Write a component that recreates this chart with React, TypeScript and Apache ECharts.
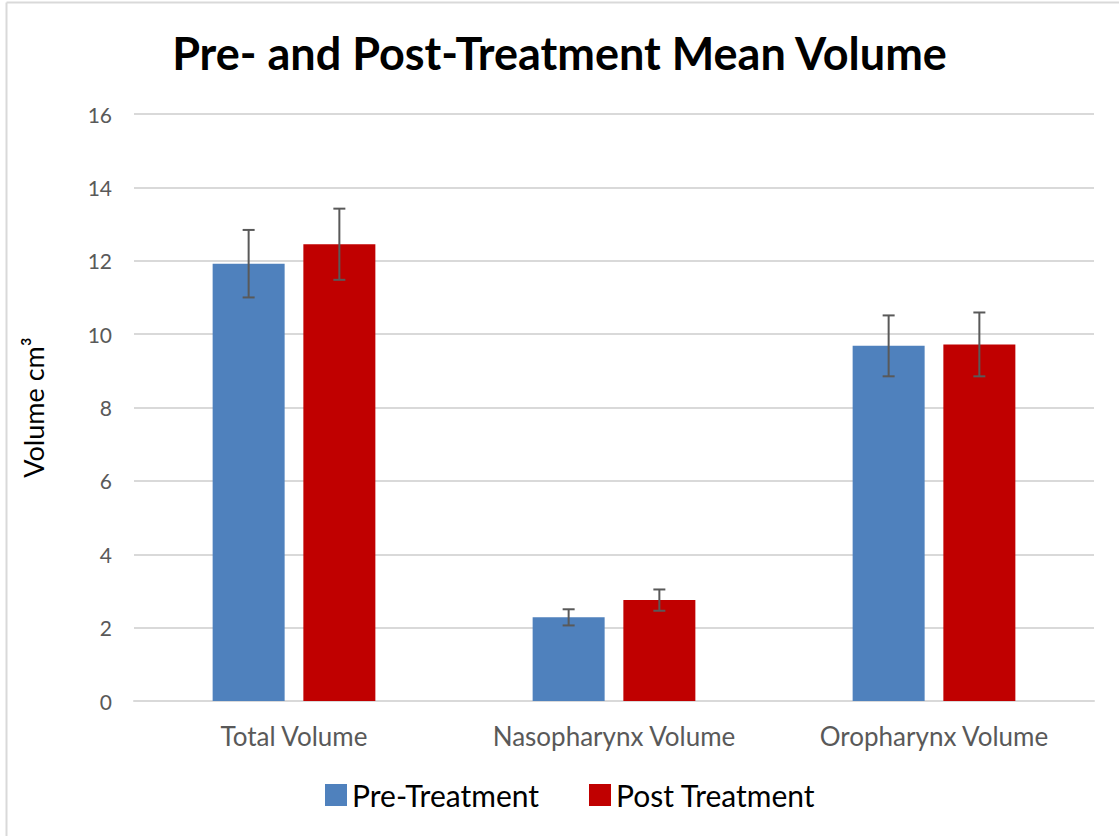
import React, { useEffect, useRef } from "react";
import * as echarts from "echarts";

const categories = ["Total Volume", "Nasopharynx Volume", "Oropharynx Volume"];
const preValues = [11.92, 2.28, 9.68];
const preErrors = [0.92, 0.22, 0.83];
const postValues = [12.45, 2.75, 9.72];
const postErrors = [0.97, 0.29, 0.87];
const seriesNames = ["Pre-Treatment", "Post Treatment"];
const colors = ["#4f81bd", "#c00000"];

const BAR_FRAC = 0.225;
const GAP_FRAC = 0.26;
const FONT = "Lato";

export default function App() {
  const ref = useRef<HTMLDivElement>(null);
  useEffect(() => {
    if (!ref.current) return;
    const chart = echarts.init(ref.current, null, { renderer: "svg" });

    const errorSeries = (vals: number[], errs: number[], sign: number) => ({
      type: "custom",
      name: "err" + sign,
      silent: true,
      z: 5,
      renderItem: (params: any, api: any) => {
        const idx = api.value(0);
        const v = api.value(1);
        const e = api.value(2);
        const cw = api.size([1, 0])[0];
        const off = (sign * cw * BAR_FRAC * (1 + GAP_FRAC)) / 2;
        const c = api.coord([idx, v]);
        const hi = api.coord([idx, v + e]);
        const lo = api.coord([idx, v - e]);
        const x = c[0] + off;
        const cap = 6;
        const style = { stroke: "#595959", lineWidth: 2, fill: "none" };
        return {
          type: "group",
          children: [
            { type: "line", shape: { x1: x, y1: hi[1], x2: x, y2: lo[1] }, style },
            { type: "line", shape: { x1: x - cap, y1: hi[1], x2: x + cap, y2: hi[1] }, style },
            { type: "line", shape: { x1: x - cap, y1: lo[1], x2: x + cap, y2: lo[1] }, style },
          ],
        };
      },
      data: vals.map((v, i) => [i, v, errs[i]]),
    });

    chart.setOption({
      animation: false,
      backgroundColor: "#ffffff",
      title: {
        text: "Pre- and Post-Treatment Mean Volume",
        left: "center",
        top: 25,
        textStyle: { fontFamily: FONT, fontWeight: "bold", fontSize: 45, color: "#000000" },
      },
      legend: {
        data: seriesNames,
        bottom: 21,
        left: 320,
        itemWidth: 22,
        itemHeight: 22,
        itemGap: 50,
        icon: "rect",
        textStyle: { fontFamily: FONT, fontSize: 30, color: "#000000" },
      },
      grid: { left: 134, right: 25, top: 114, bottom: 135 },
      xAxis: {
        type: "category",
        data: categories,
        axisLine: { show: true, lineStyle: { color: "#d9d9d9", width: 2 } },
        axisTick: { show: false },
        axisLabel: { fontFamily: FONT, fontSize: 26, color: "#595959", margin: 22 },
      },
      yAxis: {
        type: "value",
        min: 0,
        max: 16,
        interval: 2,
        name: "Volume cm\u00b3",
        nameLocation: "middle",
        nameGap: 87,
        nameTextStyle: { fontFamily: FONT, fontSize: 27, color: "#000000" },
        axisLine: { show: false },
        axisTick: { show: false },
        splitLine: { lineStyle: { color: "#d9d9d9", width: 2 } },
        axisLabel: { fontFamily: FONT, fontSize: 21, color: "#595959", margin: 22 },
      },
      graphic: [
        { type: "line", shape: { x1: 6.5, y1: 2.5, x2: 6.5, y2: 836 }, style: { stroke: "#d9d9d9", lineWidth: 2 } },
        { type: "line", shape: { x1: 6.5, y1: 2.5, x2: 1119, y2: 2.5 }, style: { stroke: "#d9d9d9", lineWidth: 2 } },
      ],
      series: [
        {
          name: seriesNames[0],
          type: "bar",
          data: preValues,
          barWidth: BAR_FRAC * 100 + "%",
          barGap: GAP_FRAC * 100 + "%",
          itemStyle: { color: colors[0] },
        },
        {
          name: seriesNames[1],
          type: "bar",
          data: postValues,
          barWidth: BAR_FRAC * 100 + "%",
          barGap: GAP_FRAC * 100 + "%",
          itemStyle: { color: colors[1] },
        },
        errorSeries(preValues, preErrors, -1),
        errorSeries(postValues, postErrors, 1),
      ],
    });
    return () => chart.dispose();
  }, []);
  return (
    <div
      ref={ref}
      style={{ position: "absolute", left: 0, top: 0, width: 1119, height: 836 }}
    />
  );
}
